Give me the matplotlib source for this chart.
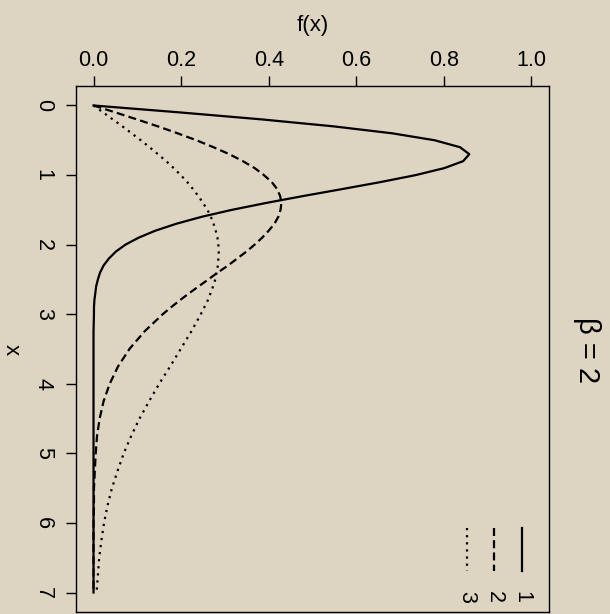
import numpy as np
import matplotlib
matplotlib.use('Agg')
import matplotlib.pyplot as plt

plt.rcParams['font.family'] = ['Liberation Sans', 'DejaVu Sans']

# x grid the curves were read on
x = [0.0, 0.1, 0.2, 0.3, 0.4, 0.5, 0.6, 0.7, 0.8, 0.9, 1.0, 1.1, 1.2, 1.3, 1.4,
     1.5, 1.6, 1.7, 1.8, 1.9, 2.0, 2.1, 2.2, 2.3, 2.4, 2.5, 2.6, 2.7, 2.8, 2.9,
     3.0, 3.25, 3.5, 3.75, 4.0, 4.25, 4.5, 4.75, 5.0, 5.25, 5.5, 5.75, 6.0,
     6.25, 6.5, 6.75, 7.0]

# f(x) for curves 1, 2, 3
f1 = [0.0, 0.198, 0.384, 0.548, 0.682, 0.779, 0.837, 0.858, 0.844, 0.801, 0.736,
      0.656, 0.569, 0.480, 0.395, 0.316, 0.247, 0.189, 0.141, 0.103, 0.073,
      0.051, 0.035, 0.023, 0.015, 0.010, 0.006, 0.004, 0.002, 0.001, 0.001,
      0.0, 0.0, 0.0, 0.0, 0.0, 0.0, 0.0, 0.0, 0.0, 0.0, 0.0, 0.0,
      0.0, 0.0, 0.0, 0.0]
f2 = [0.0, 0.050, 0.099, 0.147, 0.192, 0.235, 0.274, 0.310, 0.341, 0.368, 0.389,
      0.407, 0.419, 0.426, 0.429, 0.427, 0.422, 0.413, 0.400, 0.385, 0.368,
      0.349, 0.328, 0.307, 0.284, 0.262, 0.240, 0.218, 0.197, 0.177, 0.158,
      0.116, 0.082, 0.056, 0.037, 0.023, 0.014, 0.008, 0.005, 0.003, 0.001,
      0.001, 0.0, 0.0, 0.0, 0.0, 0.0]
f3 = [0.0, 0.022, 0.044, 0.066, 0.087, 0.108, 0.128, 0.147, 0.166, 0.183, 0.199,
      0.214, 0.227, 0.239, 0.250, 0.260, 0.268, 0.274, 0.279, 0.283, 0.285,
      0.286, 0.285, 0.284, 0.281, 0.278, 0.273, 0.267, 0.261, 0.253, 0.245,
      0.223, 0.199, 0.175, 0.150, 0.127, 0.105, 0.086, 0.069, 0.055, 0.042,
      0.032, 0.024, 0.018, 0.013, 0.010, 0.007]

series = [f1, f2, f3]
names = ['1', '2', '3']
styles = ['-', (0, (3.6, 1.9)), (0, (1, 2.2))]

x_ticks = [0, 1, 2, 3, 4, 5, 6, 7]
f_ticks = [0.0, 0.2, 0.4, 0.6, 0.8, 1.0]

bg = '#ddd4c1'
fig = plt.figure(figsize=(6.1, 6.14), dpi=100, facecolor=bg)
ax = fig.add_axes([76/610, 2/614, 473/610, 526/614])
ax.set_facecolor(bg)

for f, ls in zip(series, styles):
    ax.plot(f, x, color='black', lw=1.6, linestyle=ls)

ax.set_xlim(-0.04, 1.04)
ax.set_ylim(7.28, -0.28)

ax.xaxis.tick_top()
ax.set_xticks(f_ticks)
ax.set_xticklabels(['%.1f' % t for t in f_ticks])
ax.set_yticks(x_ticks)
ax.set_yticklabels([str(t) for t in x_ticks], rotation=-90, va='center')
ax.tick_params(axis='x', length=7, width=1, labelsize=15.5, pad=4)
ax.tick_params(axis='y', length=7, width=1, labelsize=15.5, pad=9)
for s in ax.spines.values():
    s.set_linewidth(1)

fig.text(313/610, 1 - 26/614, 'f(x)', ha='center', va='center', fontsize=16)
fig.text(11/610, 1 - 350/614, 'x', ha='center', va='center', fontsize=16, rotation=-90)
fig.text(587/610, 1 - 350/614, 'β = 2', ha='center', va='center', fontsize=21, rotation=-90)

# legend drawn sideways, like the rest of the chart
leg_x = [0.943, 0.884, 0.827]
for lx, ls, nm in zip(leg_x, styles, names):
    ax.plot([lx, lx], [0.160, 0.078], transform=ax.transAxes, color='black', lw=1.6, linestyle=ls)
    ax.text(lx, 0.029, nm, transform=ax.transAxes, ha='center', va='center', fontsize=15.5, rotation=-90)

fig.savefig('out.png', dpi=100, facecolor=bg)
